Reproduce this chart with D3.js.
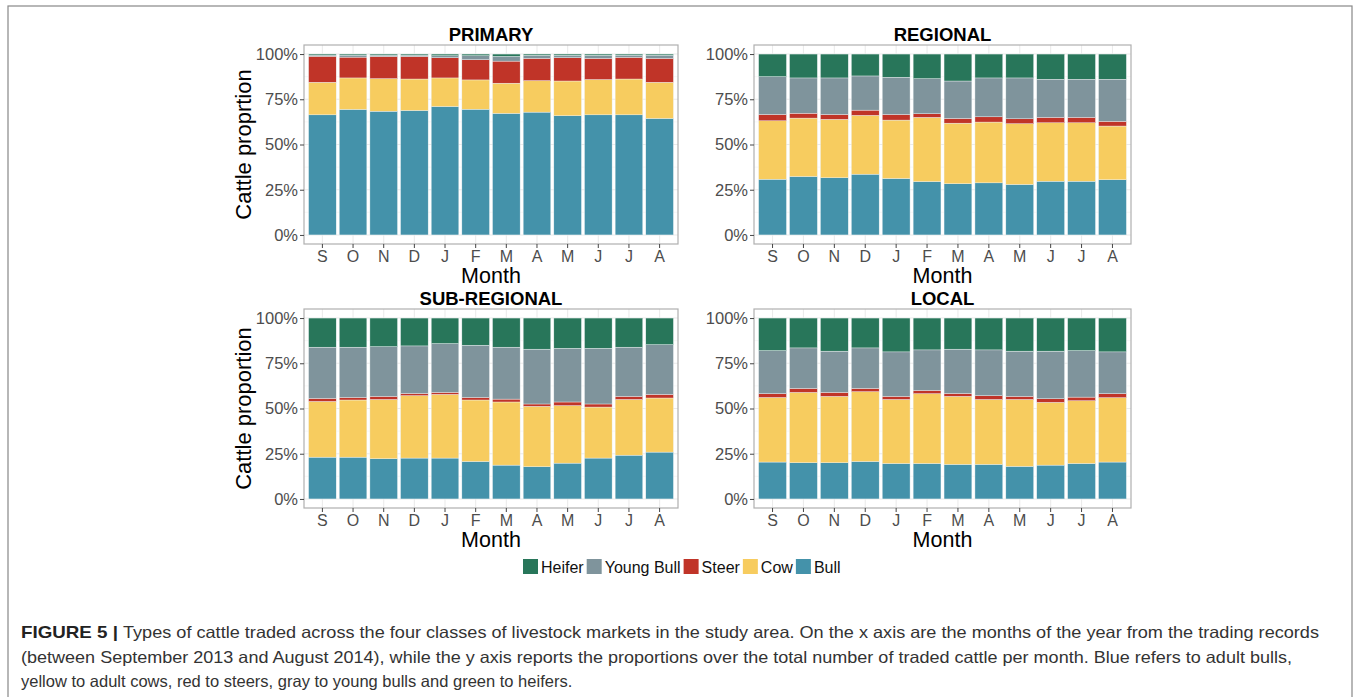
<!DOCTYPE html>
<html lang="en">
<head>
<meta charset="utf-8">
<title>Cattle types by market class</title>
<style>
  body { margin: 0; background: #fff; }
  svg text { font-family: "Liberation Sans", Arial, Helvetica, sans-serif; }
</style>
</head>
<body>
<svg id="chart" width="1357" height="697"></svg>
<script src="https://d3js.org/d3.v7.min.js"></script>
<script>
// months Sep 2013 - Aug 2014
const months = ["S","O","N","D","J","F","M","A","M","J","J","A"]
const categories = ["Bull","Cow","Steer","Young Bull","Heifer"]
const legendOrder = ["Heifer","Young Bull","Steer","Cow","Bull"]
const yTicks = [0, 25, 50, 75, 100]

// percentages
const primaryBull   = [66.4,69.4,68.4,68.8,71.0,69.5,67.2,67.9,65.9,66.4,66.4,64.4]
const primaryCow    = [18.0,17.4,18.0,17.4,15.8,16.2,16.7,17.4,19.2,19.5,19.8,20.0]
const primarySteer  = [14.4,11.5,12.3,12.5,11.2,11.2,12.2,12.3,12.9,11.7,12.0,13.2]
const primaryYoung  = [0.6,1.1,0.7,0.7,1.1,2.2,2.6,1.7,1.3,1.7,1.2,1.8]
const primaryHeifer = [0.6,0.6,0.6,0.6,0.9,0.9,1.3,0.7,0.7,0.7,0.6,0.6]

const regionalBull   = [30.8,32.3,31.6,33.6,31.2,29.5,28.3,28.8,27.9,29.7,29.7,30.5]
const regionalCow    = [32.3,32.3,32.3,32.5,32.3,35.5,33.5,33.6,33.6,32.3,32.3,29.7]
const regionalSteer  = [3.5,2.7,2.7,2.9,3.1,2.0,2.6,2.9,2.7,3.0,3.0,2.6]
const regionalYoung  = [20.9,19.5,20.2,18.9,20.6,19.4,20.7,21.5,22.6,21.1,21.1,23.3]
const regionalHeifer = [12.5,13.2,13.2,12.1,12.8,13.6,14.9,13.2,13.2,13.9,13.9,13.9]

const subBull   = [23.1,23.1,22.2,22.6,22.6,20.7,18.7,17.8,19.8,22.6,24.2,25.9]
const subCow    = [30.8,31.6,32.8,34.5,35.2,34.0,34.9,33.4,31.8,28.2,30.8,29.9]
const subSteer  = [1.7,1.4,1.7,1.2,1.1,1.4,1.6,1.3,2.0,1.7,1.7,2.0]
const subYoung  = [28.3,27.8,27.5,26.3,27.0,28.9,28.7,30.3,29.7,30.8,27.2,27.5]
const subHeifer = [16.1,16.1,15.8,15.4,14.1,15.0,16.1,17.2,16.7,16.7,16.1,14.7]

const localBull   = [20.4,20.0,20.0,20.7,19.6,19.6,19.1,19.1,18.0,18.7,19.6,20.4]
const localCow    = [35.7,38.9,36.7,38.6,35.4,38.6,37.6,35.9,37.0,34.7,34.7,35.6]
const localSteer  = [2.1,2.2,2.2,1.8,1.7,1.8,1.6,2.1,1.7,2.0,2.0,2.2]
const localYoung  = [23.8,22.4,22.8,22.4,24.6,22.4,24.5,25.3,25.0,26.3,25.7,23.1]
const localHeifer = [18.0,16.5,18.3,16.5,18.7,17.6,17.2,17.6,18.3,18.3,18.0,18.7]

const colors = {
  "Bull": "#4492aa",
  "Cow": "#f7cc5f",
  "Steer": "#c03428",
  "Young Bull": "#7f949c",
  "Heifer": "#28765a"
}

const panels = [
  { title: "PRIMARY", ylab: "Cattle proprtion", x0: 304, x1: 678, y0: 45, y1: 244,
    series: [primaryBull, primaryCow, primarySteer, primaryYoung, primaryHeifer] },
  { title: "REGIONAL", ylab: null, x0: 754, x1: 1131, y0: 45, y1: 244,
    series: [regionalBull, regionalCow, regionalSteer, regionalYoung, regionalHeifer] },
  { title: "SUB-REGIONAL", ylab: "Cattle proportion", x0: 304, x1: 678, y0: 309, y1: 508,
    series: [subBull, subCow, subSteer, subYoung, subHeifer] },
  { title: "LOCAL", ylab: null, x0: 754, x1: 1131, y0: 309, y1: 508,
    series: [localBull, localCow, localSteer, localYoung, localHeifer] }
]

const svg = d3.select("#chart")

// outer figure frame
svg.append("rect")
  .attr("x", 8).attr("y", 6)
  .attr("width", 1344).attr("height", 720)
  .attr("fill", "none").attr("stroke", "#888").attr("stroke-width", 1.2)

panels.forEach(drawPanel)

function drawPanel(p) {
  let idx = d3.range(months.length)
  let x = d3.scaleBand()
    .domain(idx)
    .range([p.x0, p.x1])
    .paddingInner(0.1)
    .paddingOuter(0.15)
  // ggplot style 5% expansion
  let h = p.y1 - p.y0
  let y = d3.scaleLinear()
    .domain([0, 100])
    .range([p.y1 - h * 0.0455, p.y0 + h * 0.0455])

  let g = svg.append("g")

  // grid
  let minor = [12.5, 37.5, 62.5, 87.5]
  g.selectAll(".minor").data(minor).enter().append("line")
    .attr("x1", p.x0).attr("x2", p.x1)
    .attr("y1", d => y(d)).attr("y2", d => y(d))
    .attr("stroke", "#f2f2f2").attr("stroke-width", 0.6)
  g.selectAll(".majory").data(yTicks).enter().append("line")
    .attr("x1", p.x0).attr("x2", p.x1)
    .attr("y1", d => y(d)).attr("y2", d => y(d))
    .attr("stroke", "#ebebeb").attr("stroke-width", 1.1)
  g.selectAll(".majorx").data(idx).enter().append("line")
    .attr("x1", d => x(d) + x.bandwidth() / 2).attr("x2", d => x(d) + x.bandwidth() / 2)
    .attr("y1", p.y0).attr("y2", p.y1)
    .attr("stroke", "#ebebeb").attr("stroke-width", 1.1)

  // stacked bars
  let rows = idx.map(i => {
    let r = { i: i }
    categories.forEach((c, k) => r[c] = p.series[k][i])
    return r
  })
  let stack = d3.stack().keys(categories).offset(d3.stackOffsetExpand)(rows)

  g.selectAll(".layer").data(stack).enter().append("g")
    .attr("fill", d => colors[d.key])
    .selectAll("rect").data(d => d).enter().append("rect")
      .attr("x", d => x(d.data.i))
      .attr("width", x.bandwidth())
      .attr("y", d => y(d[1] * 100))
      .attr("height", d => y(d[0] * 100) - y(d[1] * 100))
      .attr("stroke", "#eef3f4").attr("stroke-width", 0.4)

  // panel border
  g.append("rect")
    .attr("x", p.x0).attr("y", p.y0)
    .attr("width", p.x1 - p.x0).attr("height", p.y1 - p.y0)
    .attr("fill", "none").attr("stroke", "#b0b0b0").attr("stroke-width", 1.2)

  // y axis
  let yAxis = d3.axisLeft(y)
    .tickValues(yTicks)
    .tickFormat(d => d + "%")
    .tickSize(4)
    .tickPadding(2)
  let ya = g.append("g").attr("transform", "translate(" + p.x0 + ",0)").call(yAxis)
  ya.select(".domain").remove()
  ya.selectAll("line").attr("stroke", "#444")
  ya.selectAll("text").attr("fill", "#4d4d4d").style("font-size", "16.5px")

  // x axis
  let xAxis = d3.axisBottom(x)
    .tickFormat(i => months[i])
    .tickSize(4)
    .tickPadding(3)
  let xa = g.append("g").attr("transform", "translate(0," + p.y1 + ")").call(xAxis)
  xa.select(".domain").remove()
  xa.selectAll("line").attr("stroke", "#444")
  xa.selectAll("text").attr("fill", "#4d4d4d").style("font-size", "16px")

  // titles
  let cx = (p.x0 + p.x1) / 2
  g.append("text")
    .attr("x", cx).attr("y", p.y0 - 4)
    .attr("text-anchor", "middle")
    .style("font-size", "18.5px").style("font-weight", "bold")
    .text(p.title)
  g.append("text")
    .attr("x", cx).attr("y", p.y1 + 38.5)
    .attr("text-anchor", "middle")
    .style("font-size", "21.5px")
    .text("Month")
  if (p.ylab) {
    g.append("text")
      .attr("transform", "translate(251," + (y(50)) + ") rotate(-90)")
      .attr("text-anchor", "middle")
      .style("font-size", "22px")
      .text(p.ylab)
  }
}

// legend
let legend = svg.append("g")
let lx = 523
legendOrder.forEach(k => {
  legend.append("rect")
    .attr("x", lx).attr("y", 559)
    .attr("width", 15).attr("height", 15)
    .attr("fill", colors[k])
  let t = legend.append("text")
    .attr("x", lx + 18).attr("y", 572.5)
    .style("font-size", "16px")
    .attr("fill", "#111")
    .text(k)
  lx += 18 + t.node().getComputedTextLength() + 3
})

// caption
const captionLines = [
  "Types of cattle traded across the four classes of livestock markets in the study area. On the x axis are the months of the year from the trading records",
  "(between September 2013 and August 2014), while the y axis reports the proportions over the total number of traded cattle per month. Blue refers to adult bulls,",
  "yellow to adult cows, red to steers, gray to young bulls and green to heifers."
]
const captionEnds = [1319, 1292, null]

svg.append("text")
  .attr("x", 21).attr("y", 638)
  .style("font-size", "17px").style("font-weight", "bold")
  .attr("fill", "#222")
  .attr("textLength", 97).attr("lengthAdjust", "spacingAndGlyphs")
  .text("FIGURE 5 |")

captionLines.forEach((line, i) => {
  let sx = i === 0 ? 123 : 21
  let t = svg.append("text")
    .attr("x", sx).attr("y", 638 + i * 24.5)
    .style("font-size", "16.5px")
    .attr("fill", "#333")
    .text(line)
  if (captionEnds[i]) {
    t.attr("textLength", captionEnds[i] - sx).attr("lengthAdjust", "spacingAndGlyphs")
  }
})
</script>
</body>
</html>
